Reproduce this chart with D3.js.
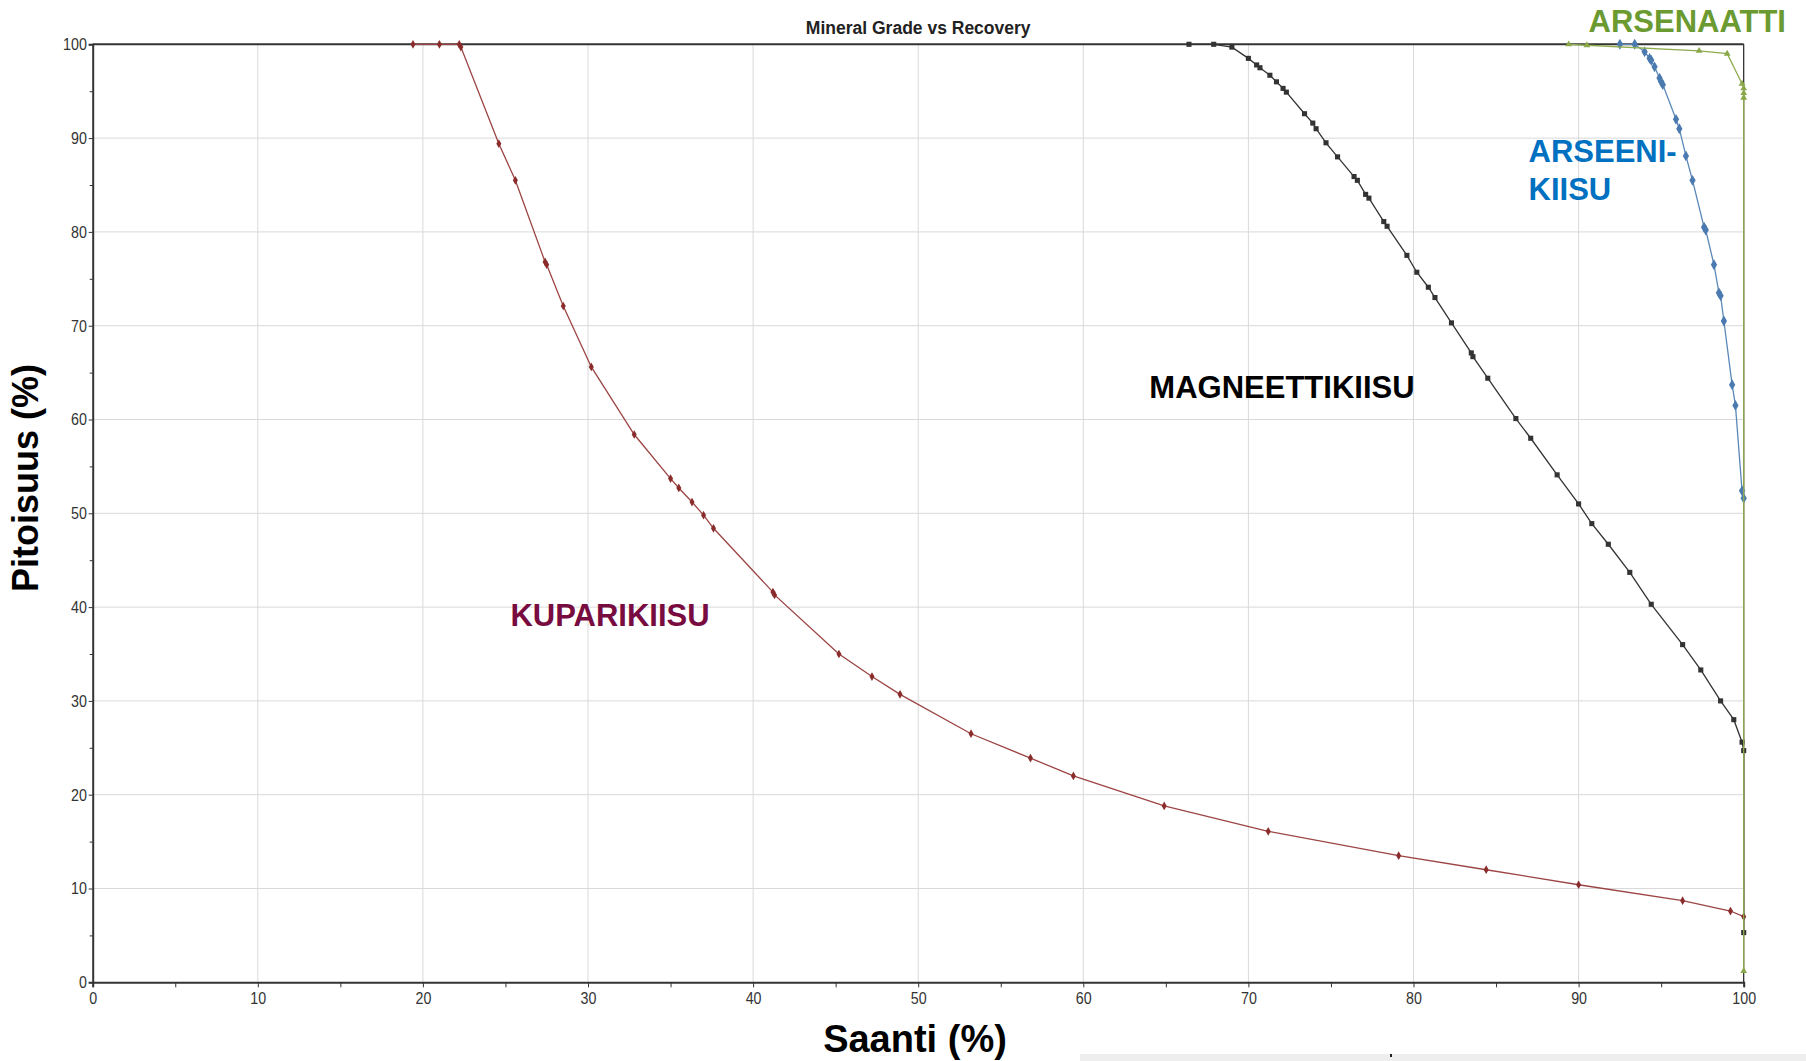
<!DOCTYPE html>
<html>
<head>
<meta charset="utf-8">
<script src="https://cdn.jsdelivr.net/npm/d3@7"></script>
<style>
  html, body { margin: 0; padding: 0; background: #fff; }
  #body { width: 1806px; height: 1061px; overflow: hidden; }
</style>
</head>
<body>
<div id="body"></div>
<script>
// texts
var title = 'Mineral Grade vs Recovery';
var xLabel = 'Saanti (%)';
var yLabel = 'Pitoisuus (%)';

// ticks
var majorTicks = [0, 10, 20, 30, 40, 50, 60, 70, 80, 90, 100];
var minorTicks = [5, 15, 25, 35, 45, 55, 65, 75, 85, 95];

// series values: [saanti, pitoisuus]
var kuparikiisu = [
  [19.4, 100], [21.0, 100], [22.2, 100], [22.3, 99.7], [24.6, 89.4], [25.6, 85.5],
  [27.4, 76.8], [27.5, 76.5], [28.5, 72.1], [30.2, 65.6], [32.8, 58.4], [35.0, 53.7],
  [35.5, 52.7], [36.3, 51.2], [37.0, 49.8], [37.6, 48.4], [41.2, 41.6], [41.3, 41.3],
  [45.2, 35.0], [47.2, 32.6], [48.9, 30.7], [53.2, 26.5], [56.8, 23.9], [59.4, 22.0],
  [64.9, 18.8], [71.2, 16.1], [79.1, 13.5], [84.4, 12.0], [90.0, 10.4], [96.3, 8.7],
  [99.2, 7.6], [100, 7.0]
];

var magneettikiisu = [
  [66.4, 100], [67.9, 100], [69.0, 99.7], [70.0, 98.5], [70.5, 97.8], [70.7, 97.5],
  [71.3, 96.7], [71.7, 96.0], [72.1, 95.3], [72.3, 94.9], [73.4, 92.6], [73.9, 91.6],
  [74.1, 91.0], [74.7, 89.5], [75.4, 88.0], [76.4, 85.9], [76.6, 85.5], [77.1, 84.0],
  [77.3, 83.6], [78.2, 81.1], [78.4, 80.6], [79.6, 77.5], [80.2, 75.7], [80.9, 74.1],
  [81.3, 73.0], [82.3, 70.3], [83.5, 67.1], [83.6, 66.7], [84.5, 64.4], [86.2, 60.1],
  [87.1, 58.0], [88.7, 54.1], [90.0, 51.0], [90.8, 48.9], [91.8, 46.7], [93.1, 43.7],
  [94.4, 40.3], [96.3, 36.0], [97.4, 33.3], [98.6, 30.0], [99.4, 28.0], [99.9, 25.6],
  [100, 24.7], [100, 5.3]
];

var arseenikiisu = [
  [92.5, 100], [93.4, 100], [94.0, 99.2], [94.3, 98.5], [94.4, 98.3], [94.6, 97.6],
  [94.9, 96.4], [95.0, 96.0], [95.1, 95.7], [95.9, 92.0], [96.1, 91.0], [96.5, 88.1],
  [96.9, 85.5], [97.6, 80.5], [97.7, 80.2], [98.2, 76.5], [98.5, 73.5], [98.6, 73.2],
  [98.8, 70.5], [99.3, 63.7], [99.5, 61.5], [99.9, 52.4], [100, 51.6]
];

var arsenaatti = [
  [89.4, 100], [90.5, 99.9], [97.3, 99.3], [99.0, 99.0], [99.9, 95.8],
  [100, 95.3], [100, 94.8], [100, 94.3], [100, 1.2]
];

var W = 1806, H = 1061;
var x = d3.scaleLinear().domain([0, 100]).range([92.7, 1743.7]);
var y = d3.scaleLinear().domain([0, 100]).range([982.3, 44.3]);

// Make the canvas
function makeCanvas (width, height) {
  var svg = d3.select('#body')
      .append('svg')
      .attr('width', width)
      .attr('height', height)
      .style('background', '#fff');
  return svg;
}

// grid lines every 10
function makeGrid (svg) {
  var inner = majorTicks.slice(1, -1);
  svg.append('g').selectAll('line.v')
      .data(inner).enter().append('line')
      .attr('x1', function (d) { return x(d); })
      .attr('x2', function (d) { return x(d); })
      .attr('y1', y(0)).attr('y2', y(100))
      .attr('stroke', '#d9d9d9').attr('stroke-width', 1);
  svg.append('g').selectAll('line.h')
      .data(inner).enter().append('line')
      .attr('y1', function (d) { return y(d); })
      .attr('y2', function (d) { return y(d); })
      .attr('x1', x(0)).attr('x2', x(100))
      .attr('stroke', '#d9d9d9').attr('stroke-width', 1);
}

// Make the axis and labels
function labelAxis (svg) {
  var tickFont = '"Liberation Sans", Arial, sans-serif';

  svg.append('g')
      .attr('transform', 'translate(0,' + y(0) + ')')
      .call(d3.axisBottom(x).tickValues(majorTicks).tickSize(5).tickPadding(5));
  svg.append('g')
      .attr('transform', 'translate(0,' + y(0) + ')')
      .call(d3.axisBottom(x).tickValues(minorTicks).tickSize(5).tickFormat(''))
      .select('.domain').remove();

  svg.append('g')
      .attr('transform', 'translate(' + x(0) + ',0)')
      .call(d3.axisLeft(y).tickValues(majorTicks).tickSize(4).tickPadding(3));
  svg.append('g')
      .attr('transform', 'translate(' + x(0) + ',0)')
      .call(d3.axisLeft(y).tickValues(minorTicks).tickSize(3).tickFormat(''))
      .select('.domain').remove();

  svg.selectAll('.domain').attr('stroke', '#333').attr('stroke-width', 2);
  svg.selectAll('.tick line').attr('stroke', '#333');
  // the original tick font is a narrow face, squeeze the glyphs
  svg.selectAll('.tick text')
      .attr('fill', '#333')
      .attr('transform', 'scale(0.84,1)')
      .style('font-family', tickFont)
      .style('font-size', '17px');

  // top and right frame
  svg.append('line')
      .attr('x1', x(0)).attr('x2', x(100)).attr('y1', y(100)).attr('y2', y(100))
      .attr('stroke', '#333').attr('stroke-width', 2);
  svg.append('line')
      .attr('x1', x(100)).attr('x2', x(100)).attr('y1', y(100)).attr('y2', y(0))
      .attr('stroke', '#222').attr('stroke-width', 1.2);

  var bold = '"Liberation Sans", Arial, Helvetica, sans-serif';
  svg.append('text')
      .attr('x', (x(0) + x(100)) / 2).attr('y', 34)
      .attr('text-anchor', 'middle')
      .style('font-family', bold).style('font-weight', 'bold').style('font-size', '17.5px')
      .attr('fill', '#222')
      .text(title);

  svg.append('text')
      .attr('x', 915).attr('y', 1052)
      .attr('text-anchor', 'middle')
      .style('font-family', bold).style('font-weight', 'bold').style('font-size', '38px')
      .attr('fill', '#000')
      .text(xLabel);

  svg.append('text')
      .attr('transform', 'translate(38,478) rotate(-90)')
      .attr('text-anchor', 'middle')
      .style('font-family', bold).style('font-weight', 'bold').style('font-size', '36px')
      .attr('fill', '#000')
      .text(yLabel);
}

// one curve with its markers
function drawSeries (svg, data, lineColor, markColor, shape, size) {
  var line = d3.line()
      .x(function (d) { return x(d[0]); })
      .y(function (d) { return y(d[1]); });
  svg.append('path')
      .datum(data)
      .attr('d', line)
      .attr('fill', 'none')
      .attr('stroke', lineColor)
      .attr('stroke-width', 1.3);
  svg.append('g').selectAll('path')
      .data(data).enter().append('path')
      .attr('transform', function (d) { return 'translate(' + x(d[0]) + ',' + y(d[1]) + ')'; })
      .attr('d', d3.symbol().type(shape).size(size))
      .attr('fill', markColor);
}

// curve names
function labelSeries (svg) {
  var bold = '"Liberation Sans", Arial, Helvetica, sans-serif';
  var names = [
    { t: 'KUPARIKIISU', px: 25.3, py: 38.0, c: '#780c40' },
    { t: 'MAGNEETTIKIISU', px: 64.0, py: 62.3, c: '#000000' },
    { t: 'ARSEENI-', px: 86.97, py: 87.45, c: '#0070c0' },
    { t: 'KIISU', px: 86.97, py: 83.35, c: '#0070c0' },
    { t: 'ARSENAATTI', px: 90.6, py: 101.3, c: '#6b9a31' }
  ];
  svg.append('g').selectAll('text')
      .data(names).enter().append('text')
      .attr('x', function (d) { return x(d.px); })
      .attr('y', function (d) { return y(d.py); })
      .style('font-family', bold).style('font-weight', 'bold').style('font-size', '31px')
      .attr('fill', function (d) { return d.c; })
      .text(function (d) { return d.t; });
}

function buildChart () {
  console.log('building chart...');
  var svg = makeCanvas(W, H);
  makeGrid(svg);
  labelAxis(svg);
  drawSeries(svg, kuparikiisu, '#9c4444', '#8b2c2c', d3.symbolDiamond, 22);
  drawSeries(svg, magneettikiisu, '#333333', '#333333', d3.symbolSquare, 26);
  drawSeries(svg, arseenikiisu, '#5a88b8', '#4a7ab0', d3.symbolDiamond, 34);
  drawSeries(svg, arsenaatti, '#8fad4f', '#8aa84a', d3.symbolTriangle, 20);
  labelSeries(svg);

  // light strip at the bottom edge of the screenshot
  svg.append('rect')
      .attr('x', 1080).attr('y', 1054).attr('width', W - 1080).attr('height', 7)
      .attr('fill', '#eeeeee');
  svg.append('rect')
      .attr('x', 1390).attr('y', 1054).attr('width', 2).attr('height', 3)
      .attr('fill', '#222');
}

buildChart();
</script>
</body>
</html>
